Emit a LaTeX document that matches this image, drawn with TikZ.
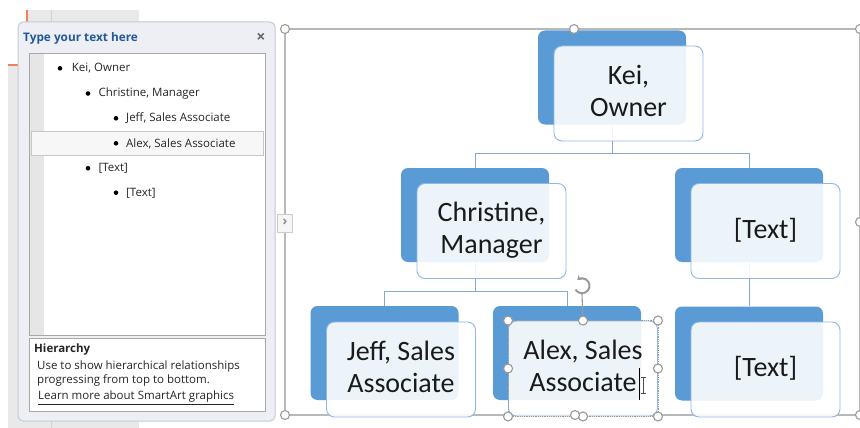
\documentclass[tikz,border=0pt]{standalone}
\usepackage{fontspec}
\setmainfont{Carlito}
\newfontfamily\ui{Open Sans}
\usetikzlibrary{calc,arrows.meta}
\definecolor{sablue}{HTML}{5B9BD5}
\definecolor{frontline}{HTML}{8FB8E6}
\definecolor{connblue}{HTML}{82A9D8}
\definecolor{handlegray}{HTML}{9A9A9A}
\definecolor{framegray}{HTML}{B8B8B8}
\definecolor{uitext}{HTML}{262626}
\definecolor{titleblue}{HTML}{22599A}
\definecolor{panelfill}{HTML}{EEEFF4}
\definecolor{panelborder}{HTML}{C3CCD4}
\definecolor{bggray}{HTML}{E9E9E9}
\definecolor{bgline}{HTML}{D2D2D2}
\definecolor{slideorange}{HTML}{F0825A}
\definecolor{boxborder}{HTML}{A8A8A8}
\definecolor{stripgray}{HTML}{E6E6E6}
\tikzset{
 backbox/.style={fill=sablue, rounded corners=7pt, minimum width=148pt, minimum height=94pt, inner sep=0pt},
 frontbox/.style={draw=frontline, line width=0.9pt, fill=white, fill opacity=0.89, rounded corners=8pt,
   minimum width=149pt, minimum height=95pt, inner sep=0pt, align=center, text=black, text depth=6pt,
   font=\fontsize{28}{32}\selectfont},
 conn/.style={draw=connblue, line width=1pt},
 handle/.style={circle, draw=handlegray, fill=white, line width=1.1pt, minimum size=9pt, inner sep=0pt},
 paneltext/.style={anchor=west, inner sep=0pt, font=\ui\fontsize{11.5}{14}\selectfont, text=uitext},
 bulletdot/.style={circle, fill=black, minimum size=4.6pt, inner sep=0pt},
}
\begin{document}
\begin{tikzpicture}[x=1pt,y=-1pt]
\useasboundingbox (0,0) rectangle (860,428);
\fill[white] (0,0) rectangle (860,428);
% background slide pane
\fill[bggray] (28,10) rectangle (139,428);
\fill[bggray] (8,65) rectangle (28,428);
\draw[bgline, line width=1pt] (51,10) -- (51,428);
\draw[slideorange, line width=2pt] (27,10) -- (27,22);
\draw[slideorange, line width=2pt] (8,65) -- (18,65);

% SmartArt frame
\coordinate (fTL) at (285,29);
\coordinate (fBR) at (859.5,415);
\draw[framegray, line width=1.4pt] (fTL) rectangle (fBR);

% text pane
\filldraw[fill=panelfill, draw=panelborder, line width=1pt, rounded corners=5pt] (18,22) rectangle (275,421);
\node[anchor=west, inner sep=0pt, font=\ui\bfseries\fontsize{11.8}{14}\selectfont, text=titleblue] (title) at (23,38) {Type your text here};
\node[inner sep=0pt, font=\ui\bfseries\fontsize{16}{16}\selectfont, text=black!60] (closex) at (261,37.5) {×};
\filldraw[fill=white, draw=boxborder, line width=1pt] (29.5,53.5) rectangle (265.5,335.5);
\fill[stripgray] (30,54) rectangle (44,335);
\filldraw[fill=white!97!black, draw=black!22, line width=1pt] (31.5,131) rectangle (263.5,155);

\node[bulletdot] (b1) at (60,68.3) {};
\node[paneltext] (t1) at (71.7,68.5) {Kei, Owner};
\node[bulletdot] (b2) at (88,93.5) {};
\node[paneltext] (t2) at (98.3,93.7) {Christine, Manager};
\node[bulletdot] (b3) at (116,118.3) {};
\node[paneltext] (t3) at (126,118.5) {Jeff, Sales Associate};
\node[bulletdot] (b4) at (116,143.3) {};
\node[paneltext] (t4) at (126,143.5) {Alex, Sales Associate};
\node[bulletdot] (b5) at (88,168.3) {};
\node[paneltext] (t5) at (98.3,168.5) {[Text]};
\node[bulletdot] (b6) at (116,192.7) {};
\node[paneltext] (t6) at (126,193) {[Text]};

\filldraw[fill=white, draw=boxborder, line width=1pt] (29.5,338.5) rectangle (265.5,411.5);
\node[anchor=west, inner sep=0pt, font=\ui\bfseries\fontsize{11.5}{14}\selectfont, text=uitext] (hier) at (34,350) {Hierarchy};
\node[paneltext] (d1) at (37,366.7) {Use to show hierarchical relationships};
\node[paneltext] (d2) at (37,380.7) {progressing from top to bottom.};
\node[paneltext] (d3) at (38,397.7) {\underline{Learn more about SmartArt graphics}};

% expander tab
\filldraw[fill=white!96!black, draw=black!20, line width=0.8pt] (277.5,214) rectangle (292.5,232);
\node[inner sep=0pt, font=\ui\bfseries\fontsize{13}{13}\selectfont, text=black!45] (tab) at (285,222) {›};

% back boxes
\node[backbox] (keiB) at (612,77.5) {};
\node[backbox] (chrB) at (475,215) {};
\node[backbox] (txtB) at (749,215) {};
\node[backbox] (jefB) at (384.5,353) {};
\node[backbox] (alxB) at (567,353) {};
\node[backbox] (tx3B) at (749,353.5) {};

% connectors
\coordinate (j1) at (612,153);
\coordinate (j2) at (475,291.5);
\draw[conn] (keiB.south) -- (j1) -| (chrB.north);
\draw[conn] (j1) -| (txtB.north);
\draw[conn] (chrB.south) -- (j2) -| (jefB.north);
\draw[conn] (j2) -| (alxB.north);
\draw[conn] (txtB.south) -- (tx3B.north);

% front boxes
\node[frontbox] (kei) at (628.5,93.5) {Kei,\\Owner};
\node[frontbox] (chr) at (491.5,231) {Christine,\\Manager};
\node[frontbox] (txt) at (765.5,231) {[Text]};
\node[frontbox] (jef) at (401,369.5) {Jeff, Sales\\Associate};
\node[frontbox] (alx) at (583,368.5) {Alex, Sales\\Associate};
\node[frontbox] (tx3) at (765.5,369.5) {[Text]};

% selection of Alex box
\draw[handlegray, line width=0.8pt, densely dotted] (alx.north west) rectangle (alx.south east);
\draw[black, line width=0.8pt] (639,368) -- (639,400);
\draw[black!70, line width=0.8pt] (643,377) -- (643,393) (640.5,377) -- (645.5,377) (640.5,393) -- (645.5,393);
\coordinate (rotc) at (582,286);
\draw[handlegray, line width=1.1pt] (alx.north) -- (582,294);
\draw[handlegray, line width=2pt, -{Stealth[length=4.5pt,width=6pt]}] ($(rotc)+(-6.5,3.5)$) arc[start angle=150, end angle=-130, radius=7.5];
\node[handle] (h1) at (alx.north west) {};
\node[handle] (h2) at (alx.north) {};
\node[handle] (h3) at (alx.north east) {};
\node[handle] (h4) at (alx.west) {};
\node[handle] (h5) at (alx.east) {};
\node[handle] (h6) at (alx.south west) {};
\node[handle] (h7) at (alx.south) {};
\node[handle] (h8) at (alx.south east) {};

% frame handles
\node[handle] (g1) at (285,29) {};
\node[handle] (g2) at (574,29) {};
\node[handle] (g3) at (860,29) {};
\node[handle] (g4) at (860,222) {};
\node[handle] (g5) at (285,415) {};
\node[handle] (g6) at (575,415) {};
\node[handle] (g7) at (860,415) {};
\end{tikzpicture}
\end{document}
